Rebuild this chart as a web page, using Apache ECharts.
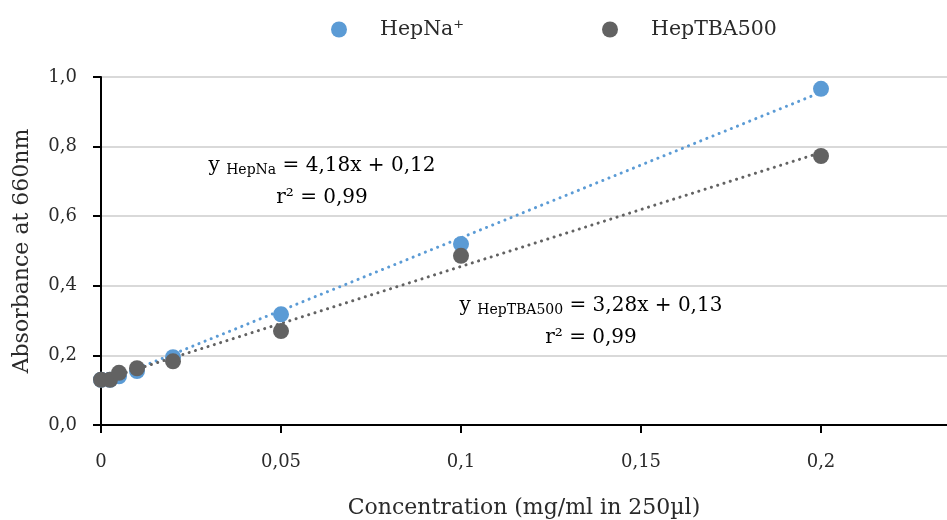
<!DOCTYPE html>
<html><head><meta charset="utf-8">
<script src="https://cdn.jsdelivr.net/npm/echarts@6/dist/echarts.min.js"></script>
<style>html,body{margin:0;padding:0;background:#fff}#c{width:947px;height:520px}</style>
</head><body><div id="c"></div>
<script>
const concentrations = [0, 0.0025, 0.005, 0.01, 0.02, 0.05, 0.1, 0.2];
const hepNa = [0.13, 0.13, 0.14, 0.155, 0.195, 0.318, 0.52, 0.966];
const hepTBA = [0.13, 0.13, 0.15, 0.163, 0.183, 0.27, 0.486, 0.773];
const trendX = [0, 0.2];
const trendNa = [0.12, 0.956];
const trendTBA = [0.128, 0.783];
const xTicks = [0, 0.05, 0.1, 0.15, 0.2];
const yTicks = [0, 0.2, 0.4, 0.6, 0.8, 1.0];
const seriesNames = ['HepNa⁺', 'HepTBA500'];

const FONT = 'DejaVu Serif';
const TXT = '#2a2a2a';
const BLUE = '#5b9bd5';
const GREY = '#626262';
const fmt = v => String(Math.round(v * 1000) / 1000).replace('.', ',');

const legendText = { fontFamily: FONT, fontSize: 20.5, color: TXT, padding: [0, 0, 0, 28] };
const chart = echarts.init(document.getElementById('c'));

function annot(text, sub, cx, cy, id) {
  return {
    id: id, type: 'text', x: cx, y: cy, z: 10,
    style: {
      text: '{m|y }{s|' + sub + '}{m| = ' + text + '}\n{m|r² = 0,99}',
      align: 'center', verticalAlign: 'middle', lineHeight: 32,
      rich: {
        m: { fontFamily: FONT, fontSize: 20, color: TXT, lineHeight: 32 },
        s: { fontFamily: FONT, fontSize: 14, color: TXT, padding: [9, 0, 0, 0], lineHeight: 32 }
      }
    }
  };
}

chart.setOption({
  animation: false,
  textStyle: { fontFamily: FONT },
  grid: { left: 101, right: 0, top: 77, bottom: 95, containLabel: false, outerBoundsMode: 'none' },
  legend: [
    { top: 14, left: 326, itemWidth: 16, itemHeight: 16, icon: 'circle', data: [seriesNames[0]], textStyle: legendText },
    { top: 14, left: 597, itemWidth: 16, itemHeight: 16, icon: 'circle', data: [seriesNames[1]], textStyle: legendText }
  ],
  xAxis: {
    type: 'value', min: 0, max: 0.235, interval: 0.05,
    name: 'Concentration (mg/ml in 250µl)', nameLocation: 'middle', nameGap: 72,
    nameTextStyle: { fontFamily: FONT, fontSize: 22, color: TXT },
    axisLine: { show: true, onZero: false, lineStyle: { color: '#000', width: 2 } },
    axisTick: { show: true, length: 8, lineStyle: { color: '#000', width: 2 }, customValues: xTicks },
    axisLabel: { fontFamily: FONT, fontSize: 18, color: TXT, margin: 28, customValues: xTicks, formatter: fmt },
    splitLine: { show: false }
  },
  yAxis: {
    type: 'value', min: 0, max: 1.0, interval: 0.2,
    name: 'Absorbance at 660nm', nameLocation: 'middle', nameGap: 68, nameRotate: 90,
    nameTextStyle: { fontFamily: FONT, fontSize: 22, color: TXT },
    axisLine: { show: true, lineStyle: { color: '#000', width: 2 } },
    axisTick: { show: true, length: 8, lineStyle: { color: '#000', width: 2 }, customValues: yTicks },
    axisLabel: { fontFamily: FONT, fontSize: 18, color: TXT, margin: 24, customValues: yTicks,
      formatter: v => v.toFixed(1).replace('.', ',') },
    splitLine: { show: true, lineStyle: { color: '#d9d9d9', width: 2 } }
  },
  series: [
    {
      name: seriesNames[0] + ' trend', type: 'line', silent: true, symbol: 'none', z: 1,
      data: trendX.map((x, i) => [x, trendNa[i]]),
      lineStyle: { color: BLUE, width: 3, type: [0.1, 6.5], cap: 'round' }
    },
    {
      name: seriesNames[1] + ' trend', type: 'line', silent: true, symbol: 'none', z: 1,
      data: trendX.map((x, i) => [x, trendTBA[i]]),
      lineStyle: { color: GREY, width: 3, type: [0.1, 6.5], cap: 'round' }
    },
    {
      name: seriesNames[0], type: 'scatter', symbolSize: 16, z: 3,
      itemStyle: { color: BLUE, opacity: 1 },
      data: concentrations.map((x, i) => [x, hepNa[i]])
    },
    {
      name: seriesNames[1], type: 'scatter', symbolSize: 16, z: 4,
      itemStyle: { color: GREY, opacity: 1 },
      data: concentrations.map((x, i) => [x, hepTBA[i]])
    }
  ],
  graphic: [
    annot('4,18x + 0,12', 'HepNa', 322, 182, 'a1'),
    annot('3,28x + 0,13', 'HepTBA500', 591, 322, 'a2')
  ]
});
</script></body></html>
